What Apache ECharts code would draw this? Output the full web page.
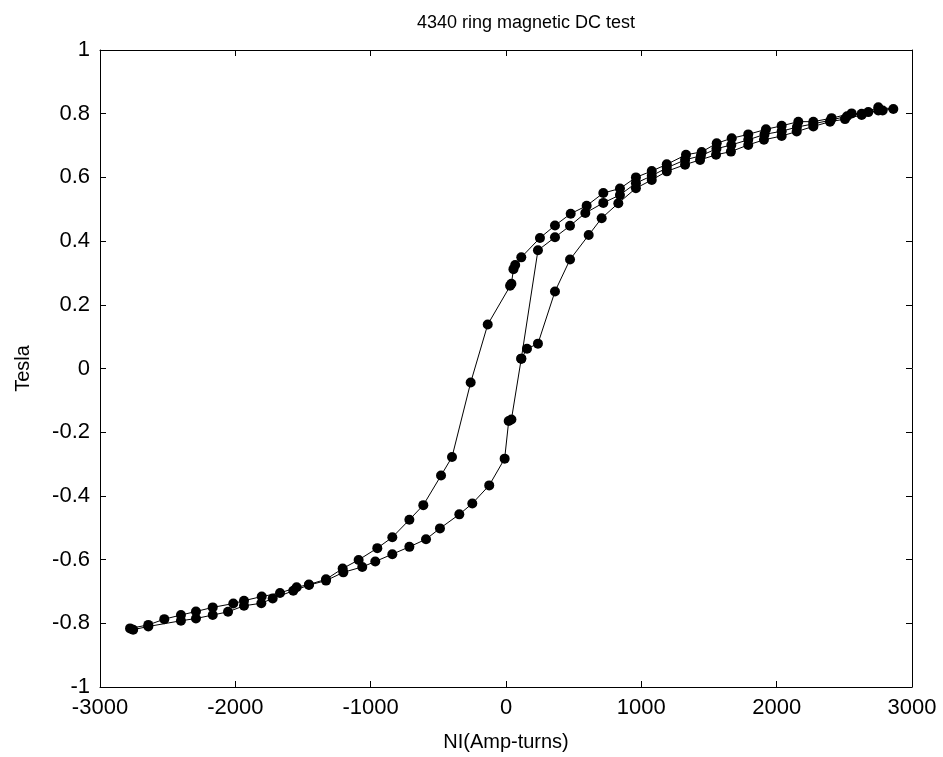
<!DOCTYPE html>
<html>
<head>
<meta charset="utf-8">
<script src="https://cdn.jsdelivr.net/npm/echarts@6/dist/echarts.min.js"></script>
<style>
  html, body { margin: 0; padding: 0; background: #fff; }
  #chart { width: 943px; height: 757px; }
</style>
</head>
<body>
<div id="chart"></div>
<script>
// Initial magnetization curve (NI, Tesla)
var initX = [113, 236, 362, 473, 586, 719, 842, 960, 1077, 1188, 1323, 1440, 1555, 1665, 1790, 1910, 2037, 2150, 2271, 2400, 2520, 2677, 2783];
var initY = [0.031, 0.371, 0.412, 0.448, 0.488, 0.520, 0.545, 0.582, 0.605, 0.630, 0.655, 0.668, 0.690, 0.702, 0.718, 0.735, 0.745, 0.758, 0.768, 0.780, 0.792, 0.805, 0.810];

// Descending branch
var descX = [2862, 2751, 2628, 2554, 2406, 2271, 2160, 2037, 1921, 1790, 1668, 1557, 1446, 1330, 1188, 1077, 960, 842, 719, 596, 478, 362, 251, 113, 68, 55, 40, 30, -135, -261, -399, -480, -611, -714, -840, -951, -1089, -1207, -1330, -1456, -1547, -1670, -1805, -1936, -2015, -2167, -2291, -2402, -2525, -2643, -2778];
var descY = [0.815, 0.820, 0.800, 0.801, 0.786, 0.775, 0.775, 0.762, 0.751, 0.735, 0.723, 0.707, 0.680, 0.671, 0.641, 0.620, 0.600, 0.565, 0.551, 0.511, 0.486, 0.449, 0.410, 0.349, 0.325, 0.312, 0.266, 0.260, 0.138, -0.044, -0.278, -0.336, -0.429, -0.475, -0.530, -0.564, -0.601, -0.628, -0.662, -0.678, -0.687, -0.705, -0.716, -0.729, -0.738, -0.750, -0.763, -0.774, -0.787, -0.805, -0.816];

// Ascending branch
var ascX = [-2755, -2643, -2402, -2291, -2167, -2054, -1936, -1808, -1724, -1572, -1456, -1330, -1202, -1062, -966, -840, -714, -591, -488, -345, -249, -124, -10, 20, 40, 113, 155, 236, 362, 473, 611, 707, 830, 960, 1077, 1188, 1323, 1434, 1552, 1662, 1790, 1906, 2037, 2148, 2271, 2394, 2505, 2628, 2751];
var ascY = [-0.820, -0.810, -0.792, -0.785, -0.774, -0.764, -0.745, -0.737, -0.722, -0.698, -0.680, -0.666, -0.640, -0.623, -0.606, -0.583, -0.560, -0.536, -0.502, -0.458, -0.424, -0.367, -0.283, -0.165, -0.160, 0.031, 0.062, 0.078, 0.242, 0.342, 0.419, 0.472, 0.519, 0.566, 0.592, 0.619, 0.640, 0.655, 0.671, 0.681, 0.702, 0.718, 0.730, 0.744, 0.760, 0.775, 0.783, 0.796, 0.810];

var xTicks = [-3000, -2000, -1000, 0, 1000, 2000, 3000];
var yTicks = [-1, -0.8, -0.6, -0.4, -0.2, 0, 0.2, 0.4, 0.6, 0.8, 1];

var titleText = '4340 ring magnetic DC test';
var xName = 'NI(Amp-turns)';
var yName = 'Tesla';

function pairs(xs, ys) {
  var out = [];
  for (var i = 0; i < xs.length; i++) out.push([xs[i], ys[i]]);
  return out;
}
var allData = pairs(initX, initY).concat(pairs(descX, descY), pairs(ascX, ascY));

var FONT = 'Liberation Sans, Arial, sans-serif';
var chart = echarts.init(document.getElementById('chart'), null, { renderer: 'canvas' });

function axisCommon(showLabel) {
  return {
    axisLine: { show: true, onZero: false, lineStyle: { color: '#000', width: 1 } },
    axisTick: { show: true, inside: true, length: 6, lineStyle: { color: '#000', width: 1 } },
    splitLine: { show: false },
    axisLabel: { show: showLabel, color: '#000', fontSize: 22, fontFamily: FONT }
  };
}

var xMain = Object.assign(axisCommon(true), {
  type: 'value', position: 'bottom', min: xTicks[0], max: xTicks[xTicks.length - 1],
  interval: xTicks[1] - xTicks[0],
  name: xName, nameLocation: 'middle', nameGap: 45,
  nameTextStyle: { color: '#000', fontSize: 20, fontFamily: FONT }
});
xMain.axisLabel.margin = 10;
xMain.axisLabel.formatter = function (v) { return String(v); };
var xTop = Object.assign(axisCommon(false), {
  type: 'value', position: 'top', min: xTicks[0], max: xTicks[xTicks.length - 1],
  interval: xTicks[1] - xTicks[0]
});
var yMain = Object.assign(axisCommon(true), {
  type: 'value', position: 'left', min: yTicks[0], max: yTicks[yTicks.length - 1],
  interval: 0.2,
  name: yName, nameLocation: 'middle', nameGap: 67, nameRotate: 90,
  nameTextStyle: { color: '#000', fontSize: 20, fontFamily: FONT }
});
yMain.axisLabel.margin = 10;
yMain.axisLabel.formatter = function (v) { return String(Math.round(v * 10) / 10); };
var yRight = Object.assign(axisCommon(false), {
  type: 'value', position: 'right', min: yTicks[0], max: yTicks[yTicks.length - 1],
  interval: 0.2
});

chart.setOption({
  animation: false,
  backgroundColor: '#fff',
  title: {
    text: titleText, left: 521, top: 9, textAlign: 'center',
    textStyle: { color: '#000', fontSize: 18, fontWeight: 'normal', fontFamily: FONT }
  },
  grid: { left: 100, right: 31, top: 50, bottom: 69, containLabel: false },
  xAxis: [xMain, xTop],
  yAxis: [yMain, yRight],
  series: [{
    type: 'line',
    xAxisIndex: 0, yAxisIndex: 0,
    data: allData,
    symbol: 'circle', symbolSize: 10,
    showAllSymbol: true,
    itemStyle: { color: '#000' },
    lineStyle: { color: '#000', width: 1 },
    clip: false
  }]
});
</script>
</body>
</html>
